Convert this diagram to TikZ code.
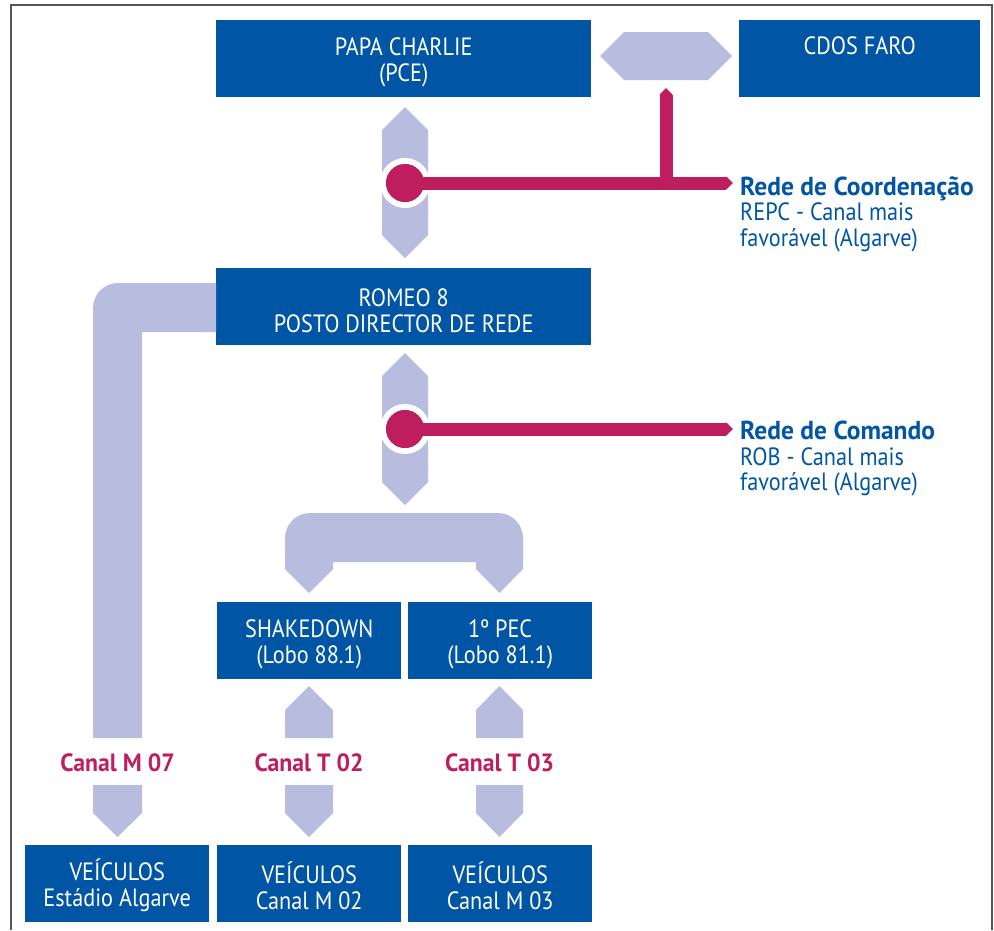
\documentclass[tikz,border=0pt]{standalone}
\usepackage{fontspec}
\setmainfont{PT Sans}[FakeStretch=0.89]
\newfontfamily\wideface{PT Sans}[FakeStretch=0.98]
\newfontfamily\chanface{PT Sans}[FakeStretch=0.95]
\usetikzlibrary{arrows.meta}
\definecolor{boxblue}{RGB}{0,85,164}
\definecolor{lav}{RGB}{184,189,224}
\definecolor{mag}{RGB}{190,30,94}
\definecolor{framegray}{RGB}{85,85,85}
\tikzset{
  box/.style={fill=boxblue, anchor=north west, inner sep=0pt},
  boxtext/.style={text=white, inner sep=0pt, align=center, yshift=-4pt,
    font=\fontsize{25}{26}\selectfont},
  lavshape/.style={fill=lav},
  magline/.style={draw=mag, line width=13pt, -{Triangle[length=7pt,width=13pt]}},
  junction/.style={circle, fill=mag, draw=white, line width=6pt, minimum size=44pt, inner sep=0pt},
  chan/.style={text=mag, inner sep=0pt, font=\chanface\bfseries\fontsize{25}{26}\selectfont},
  netlabel/.style={text=boxblue, anchor=north west, align=left, inner sep=0pt,
    font=\fontsize{25}{25.5}\selectfont},
  frameline/.style={draw=framegray, line width=2pt}
}
\newcommand{\nettitle}[1]{{\wideface\bfseries\fontsize{26}{25.5}\selectfont #1}}
\begin{document}
\begin{tikzpicture}[x=1pt,y=-1pt]
\useasboundingbox (0,0) rectangle (994,930);
% frame
\draw[frameline] (11,930) -- (11,5) -- (992,5) -- (992,930);

% boxes
\node[box, minimum width=375pt, minimum height=77pt] (pc) at (216,20) {};
\node[boxtext] at (pc.center) {PAPA CHARLIE\\(PCE)};
\node[box, minimum width=241pt, minimum height=77pt] (cdos) at (739,20) {};
\node[boxtext] at (cdos.center) {CDOS FARO\\\strut};
\node[box, minimum width=375pt, minimum height=77pt] (romeo) at (216,268) {};
\node[boxtext] at (romeo.center) {ROMEO 8\\POSTO DIRECTOR DE REDE};
\node[box, minimum width=184pt, minimum height=77pt] (shake) at (217,602) {};
\node[boxtext] at (shake.center) {SHAKEDOWN\\(Lobo 88.1)};
\node[box, minimum width=184pt, minimum height=77pt] (pec) at (408,602) {};
\node[boxtext] at (pec.center) {1º PEC\\(Lobo 81.1)};
\node[box, minimum width=184pt, minimum height=77pt] (v1) at (25,845) {};
\node[boxtext, yshift=2pt] at (v1.center) {VEÍCULOS\\Estádio Algarve};
\node[box, minimum width=184pt, minimum height=77pt] (v2) at (217,845) {};
\node[boxtext, yshift=2pt] at (v2.center) {VEÍCULOS\\Canal M 02};
\node[box, minimum width=184pt, minimum height=77pt] (v3) at (408,845) {};
\node[boxtext, yshift=2pt] at (v3.center) {VEÍCULOS\\Canal M 03};

% lavender links
% PC <-> CDOS
\fill[lavshape] (600,56) -- (624,32) -- (708,32) -- (732,56) -- (708,80) -- (624,80) -- cycle;
% PC <-> ROMEO
\fill[lavshape] (405,107) -- (428,130) -- (428,235) -- (405,258) -- (382,235) -- (382,130) -- cycle;
% ROMEO <-> branch
\fill[lavshape] (405,353) -- (428,376) -- (428,482) -- (405,505) -- (382,482) -- (382,376) -- cycle;
% branch
\fill[lavshape] (309,593) -- (285,569) -- (285,538) .. controls (285,524.2) and (296.2,513) .. (310,513)
  -- (498,513) .. controls (511.8,513) and (523,524.2) .. (523,538)
  -- (523,569) -- (499.5,593) -- (476,569) -- (476,562) -- (333,562) -- (333,569) -- cycle;
% L pipe from ROMEO to Canal M 07
\fill[lavshape] (216,283) -- (118,283) .. controls (104.2,283) and (93,294.2) .. (93,308)
  -- (93,738) -- (142,738) -- (142,332) -- (216,332) -- cycle;
% up arrows
\fill[lavshape] (309,686) -- (333,710) -- (333,738) -- (285,738) -- (285,710) -- cycle;
\fill[lavshape] (499.5,686) -- (523,710) -- (523,738) -- (476,738) -- (476,710) -- cycle;
% down arrows
\fill[lavshape] (93,785) -- (142,785) -- (142,813) -- (117.5,837) -- (93,813) -- cycle;
\fill[lavshape] (285,785) -- (333,785) -- (333,813) -- (309,837) -- (285,813) -- cycle;
\fill[lavshape] (476,785) -- (523,785) -- (523,813) -- (499.5,837) -- (476,813) -- cycle;

% channel labels
\node[chan] (cm07) at (117.5,763) {Canal M 07};
\node[chan] (ct02) at (309,763) {Canal T 02};
\node[chan] (ct03) at (499.5,763) {Canal T 03};

% magenta networks
\node[junction] (j1) at (405,183) {};
\coordinate (r1) at (733,183);
\coordinate (vb) at (666,189);
\coordinate (vt) at (666,88);
\draw[magline] (j1.center) -- (r1);
\draw[magline] (vb) -- (vt);
\fill[mag] (j1) circle[radius=19pt];

\node[junction] (j2) at (405,429) {};
\coordinate (r2) at (733,429);
\draw[magline] (j2.center) -- (r2);
\fill[mag] (j2) circle[radius=19pt];

\node[netlabel] (coord) at (740,176) {\nettitle{Rede de Coordenação}\\REPC - Canal mais\\favorável (Algarve)};
\node[netlabel] (cmd) at (740,421) {\nettitle{Rede de Comando}\\ROB - Canal mais\\favorável (Algarve)};
\end{tikzpicture}
\end{document}
